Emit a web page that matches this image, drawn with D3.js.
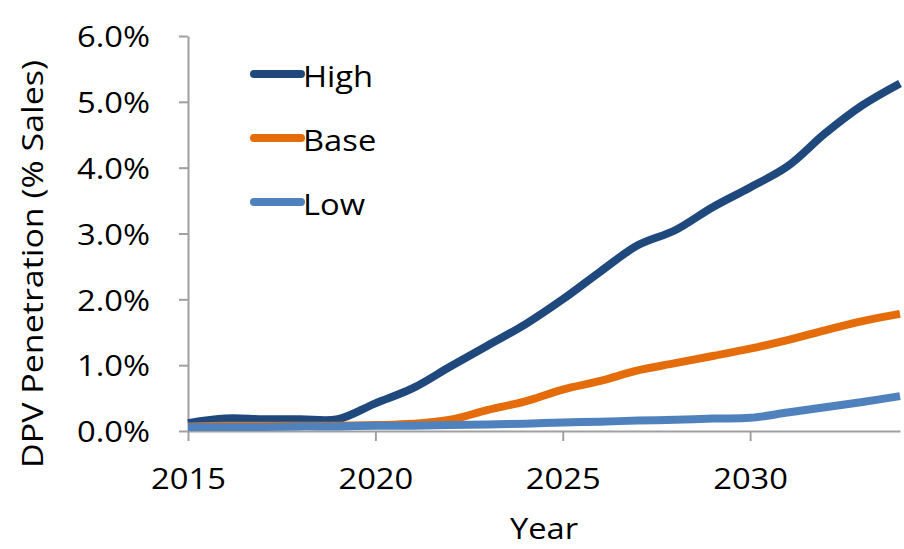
<!DOCTYPE html>
<html>
<head>
<meta charset="utf-8">
<script src="https://cdn.jsdelivr.net/npm/d3@7"></script>
<style>
  body { margin: 0; background: #fff; }
  text { font-family: "Open Sans", sans-serif; fill: #000; }
</style>
</head>
<body>
<div id="chart"></div>
<script>
const WIDTH = 904, HEIGHT = 549;
const M = { top: 36, right: 4, bottom: 118, left: 188 };
const innerW = WIDTH - M.left - M.right;
const innerH = HEIGHT - M.top - M.bottom;

// values, % of sales
const years = d3.range(2015, 2035);
const high = [0.12, 0.19, 0.18, 0.18, 0.18, 0.42, 0.65, 0.98, 1.3, 1.62, 2.0, 2.42, 2.82, 3.05, 3.4, 3.7, 4.02, 4.52, 4.95, 5.28];
const base = [0.07, 0.08, 0.08, 0.08, 0.08, 0.09, 0.11, 0.17, 0.32, 0.45, 0.63, 0.76, 0.92, 1.03, 1.14, 1.25, 1.38, 1.53, 1.67, 1.78];
const low  = [0.06, 0.06, 0.06, 0.07, 0.07, 0.08, 0.08, 0.09, 0.10, 0.11, 0.13, 0.14, 0.16, 0.17, 0.19, 0.20, 0.28, 0.36, 0.44, 0.53];
const seriesNames = ["High", "Base", "Low"];
const colors = ["#1F497D", "#E46C0A", "#4F81BD"];
const yTicks = [0, 1, 2, 3, 4, 5, 6];
const xTicks = [2015, 2020, 2025, 2030];

const series = [high, base, low].map((vals, i) => ({
  name: seriesNames[i], color: colors[i],
  values: years.map((yr, j) => ({ year: yr, v: vals[j] }))
}));

const svg = d3.select("#chart").append("svg")
  .attr("width", WIDTH).attr("height", HEIGHT);
const g = svg.append("g").attr("transform", `translate(${M.left},${M.top})`);

const x = d3.scaleLinear().domain([2015, 2034]).range([0, innerW]);
const y = d3.scaleLinear().domain([0, 6]).range([innerH, 0]);

const xAxis = g.append("g").attr("transform", `translate(0,${innerH})`)
  .call(d3.axisBottom(x).tickValues(xTicks).tickFormat(d3.format("d")).tickSize(10).tickSizeOuter(0));
const yAxis = g.append("g")
  .call(d3.axisLeft(y).tickValues(yTicks).tickFormat(d => d.toFixed(1) + "%").tickSize(9).tickSizeOuter(0));

[xAxis, yAxis].forEach(a => {
  a.select(".domain").attr("stroke", "#a0a0a0").attr("stroke-width", 2);
  a.selectAll(".tick line").attr("stroke", "#a0a0a0").attr("stroke-width", 2);
  a.selectAll("text").attr("font-size", 30).attr("fill", "#000");
});
xAxis.selectAll("text").attr("dy", null).attr("y", 58);
yAxis.selectAll("text").attr("x", -38).attr("dy", "0.36em");

const line = d3.line().x(d => x(d.year)).y(d => y(d.v)).curve(d3.curveCatmullRom.alpha(0.5));

g.selectAll(".series").data(series).join("path")
  .attr("class", "series")
  .attr("fill", "none")
  .attr("stroke", d => d.color)
  .attr("stroke-width", 8)
  .attr("stroke-linejoin", "round")
  .attr("d", d => line(d.values));

// legend
const lg = svg.append("g").attr("transform", "translate(254,74)");
const item = lg.selectAll("g").data(series).join("g")
  .attr("transform", (d, i) => `translate(0,${i * 64})`);
item.append("line").attr("x1", 0).attr("x2", 47).attr("y1", 0).attr("y2", 0)
  .attr("stroke", d => d.color).attr("stroke-width", 8).attr("stroke-linecap", "round");
item.append("text").attr("x", 49).attr("y", 13).attr("font-size", 30).text(d => d.name);

// axis titles
svg.append("text").attr("x", 544).attr("y", 539).attr("text-anchor", "middle")
  .attr("font-size", 30).text("Year");
const yTitle = svg.append("text").attr("transform", "translate(43,264) rotate(-90)")
  .attr("text-anchor", "middle").attr("font-size", 30).text("DPV Penetration (% Sales)");

// the original font runs a bit wider than Open Sans: stretch the glyphs slightly
svg.selectAll("text").each(function() {
  const w = this.getComputedTextLength();
  d3.select(this).attr("textLength", w * 1.09).attr("lengthAdjust", "spacingAndGlyphs");
});
yTitle.attr("textLength", 408);
</script>
</body>
</html>
